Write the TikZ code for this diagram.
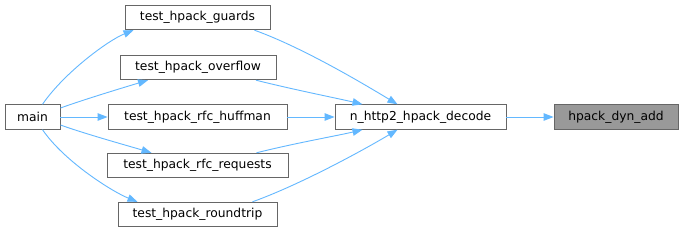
\documentclass[tikz,border=0pt]{standalone}
\usepackage{fontspec}
\setmainfont{DejaVu Sans}
\usetikzlibrary{arrows.meta}
\definecolor{edgeblue}{HTML}{63B8FF}
\definecolor{boxline}{HTML}{666666}
\definecolor{boxfill}{HTML}{999999}
\begin{document}
\begin{tikzpicture}[x=1pt,y=-1pt,
  fn/.style={draw=boxline,fill=white,line width=0.9pt,minimum height=24.5pt,inner sep=0pt,font=\fontsize{12.3}{14}\selectfont,text=black},
  hl/.style={fn,fill=boxfill},
  edge/.style={draw=edgeblue,line width=0.9pt,-{Triangle[length=10pt,width=7.5pt]}}]
\useasboundingbox[fill=white] (0,0) rectangle (683,233);
\node[fn,minimum width=55pt] (main) at (32.5,117) {main};
\node[fn,minimum width=145pt] (guards) at (197.5,17.5) {test\_hpack\_guards};
\node[fn,minimum width=156pt] (overflow) at (198,67.5) {test\_hpack\_overflow};
\node[fn,minimum width=179pt] (huffman) at (197.5,117) {test\_hpack\_rfc\_huffman};
\node[fn,minimum width=181pt] (requests) at (197.5,165.5) {test\_hpack\_rfc\_requests};
\node[fn,minimum width=159pt] (roundtrip) at (197.5,214.5) {test\_hpack\_roundtrip};
\node[fn,minimum width=171pt] (decode) at (420.5,117) {n\_http2\_hpack\_decode};
\node[hl,minimum width=124pt] (dyn) at (616,117) {hpack\_dyn\_add};
% main -> tests
\draw[edge] ([xshift=10pt]main.north) .. controls +(22,-32) and +(-25,10) .. ([xshift=-64pt]guards.south);
\draw[edge] ([yshift=9pt]main.east) .. controls +(25,-9) and +(-20,6) .. ([xshift=-50pt]overflow.south);
\draw[edge] (main.east) -- (huffman.west);
\draw[edge] ([yshift=-8pt]main.east) .. controls +(25,9) and +(-20,-6) .. ([xshift=-46pt]requests.north);
\draw[edge] ([xshift=10pt]main.south) .. controls +(22,32) and +(-25,-10) .. ([xshift=-60pt]roundtrip.north);
% tests -> decode
\draw[edge] ([xshift=57pt]guards.south) .. controls +(50,18) and +(-30,-18) .. ([xshift=-23pt]decode.north);
\draw[edge] ([xshift=58pt]overflow.south) .. controls +(40,10) and +(-25,-6) .. ([xshift=-58pt]decode.north);
\draw[edge] (huffman.east) -- (decode.west);
\draw[edge] ([xshift=59pt]requests.north) .. controls +(40,-10) and +(-25,6) .. ([xshift=-58pt]decode.south);
\draw[edge] ([xshift=55pt]roundtrip.north) .. controls +(50,-18) and +(-30,18) .. ([xshift=-23pt]decode.south);
\draw[edge] (decode.east) -- (dyn.west);
\end{tikzpicture}
\end{document}
